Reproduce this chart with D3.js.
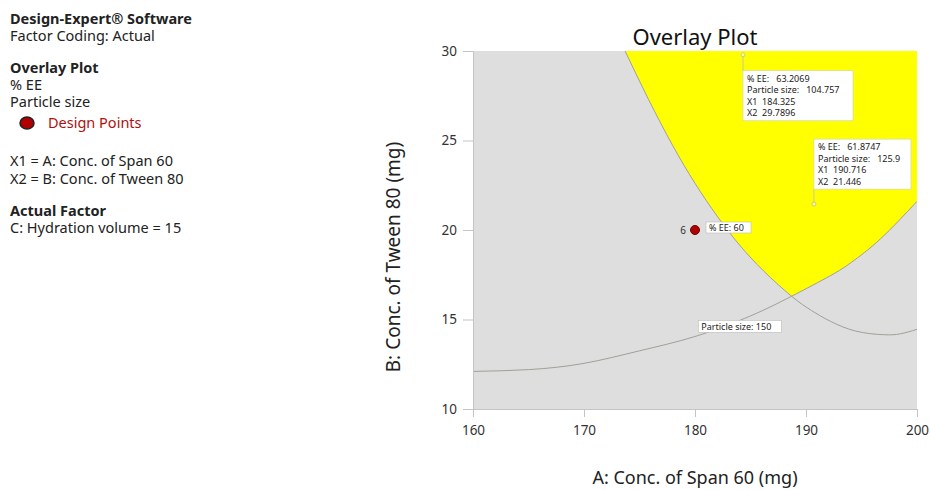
<!DOCTYPE html>
<html>
<head>
<meta charset="utf-8">
<script src="https://cdn.jsdelivr.net/npm/d3@7"></script>
<style>
  body { margin: 0; background: #fff; }
  text { font-family: "Noto Sans", "Open Sans", sans-serif; }
</style>
</head>
<body>
<div id="chart"></div>
<script>
// contour %EE = 60 (A, B)
const eeA = [173.7, 175.8, 178, 180, 182, 184, 186.2, 188.7, 190.5, 192.2, 194.5, 197, 198.5, 200];
const eeB = [30, 27.31, 24.71, 22.61, 20.77, 19.17, 17.7, 16.3, 15.5, 14.9, 14.35, 14.15, 14.2, 14.45];
// contour Particle size = 150 (A, B)
const psA = [160, 165, 170, 175, 180, 185, 188.7, 192.2, 194.1, 196.7, 200];
const psB = [12.1, 12.2, 12.55, 13.25, 14.05, 15.2, 16.3, 17.45, 18.2, 19.5, 21.6];
const crossA = 188.7;

const designA = [180], designB = [20], designRun = ["6"], designLabel = ["% EE: 60"];

const flagA = [184.325, 190.716];
const flagB = [29.7896, 21.446];
const flagEE = ["63.2069", "61.8747"];
const flagPS = ["104.757", "125.9"];

const xTicks = [160, 170, 180, 190, 200];
const yTicks = [10, 15, 20, 25, 30];

const legendLines = [
  {t: "Design-Expert® Software", b: true, y: 24},
  {t: "Factor Coding: Actual", y: 41},
  {t: "Overlay Plot", b: true, y: 73},
  {t: "% EE", y: 90},
  {t: "Particle size", y: 107},
  {t: "X1 = A: Conc. of Span 60", y: 166},
  {t: "X2 = B: Conc. of Tween 80", y: 184},
  {t: "Actual Factor", b: true, y: 216},
  {t: "C: Hydration volume = 15", y: 233}
];

const width = 930, height = 490,
    margin = ({top: 51, right: 13, bottom: 81, left: 473});

const svg = d3.select("#chart")
    .append("svg")
    .attr("width", width)
    .attr("height", height);

const x = d3.scaleLinear()
    .domain([160, 200])
    .range([margin.left, width - margin.right]);

const y = d3.scaleLinear()
    .domain([10, 30])
    .range([height - margin.bottom, margin.top]);

// left side text panel
svg.append("g").selectAll("text")
    .data(legendLines)
    .join("text")
    .attr("x", 10)
    .attr("y", d => d.y)
    .attr("font-size", 14.5)
    .attr("font-weight", d => d.b ? "bold" : "normal")
    .attr("fill", "#222")
    .text(d => d.t);

svg.append("ellipse")
    .attr("cx", 27).attr("cy", 123)
    .attr("rx", 7).attr("ry", 6)
    .attr("fill", "#b00000")
    .attr("stroke", "#222")
    .attr("stroke-width", 1.5);
svg.append("text")
    .attr("x", 48).attr("y", 128)
    .attr("font-size", 14.5)
    .attr("fill", "#b01010")
    .text("Design Points");

// plot background
svg.append("rect")
    .attr("x", x(160)).attr("y", y(30))
    .attr("width", x(200) - x(160))
    .attr("height", y(10) - y(30))
    .attr("fill", "#dedede");

svg.append("clipPath").attr("id", "clip")
  .append("rect")
    .attr("x", x(160)).attr("y", y(30))
    .attr("width", x(200) - x(160))
    .attr("height", y(10) - y(30));

const plot = svg.append("g").attr("clip-path", "url(#clip)");

const ee = eeA.map((a, i) => [a, eeB[i]]);
const ps = psA.map((a, i) => [a, psB[i]]);

const line = d3.line()
    .x(d => x(d[0]))
    .y(d => y(d[1]))
    .curve(d3.curveNatural);

// yellow feasible region: right of %EE curve and above particle size curve
const eePart = ee.filter(d => d[0] <= crossA);
const psPart = ps.filter(d => d[0] >= crossA);
const regionPath = line(eePart) + line(psPart).replace(/^M/, "L") +
    `L${x(200)},${y(30)}Z`;

plot.append("path")
    .attr("d", regionPath)
    .attr("fill", "#ffff00")
    .attr("stroke", "none");

plot.append("path")
    .attr("d", line(ee))
    .attr("fill", "none")
    .attr("stroke", "#a0a098")
    .attr("stroke-width", 1);

plot.append("path")
    .attr("d", line(ps))
    .attr("fill", "none")
    .attr("stroke", "#a0a098")
    .attr("stroke-width", 1);

// axes
const xAxis = g => g
    .attr("transform", `translate(0,${y(10)})`)
    .call(d3.axisBottom(x).tickValues(xTicks).tickSize(8).tickPadding(8))
    .call(g => g.select(".domain").attr("stroke", "#c4c4c4"))
    .call(g => g.selectAll(".tick line").attr("stroke", "#c4c4c4"))
    .call(g => g.selectAll(".tick text").attr("font-size", 13.5).attr("fill", "#333")
        .attr("font-family", "Noto Sans, sans-serif"));

const yAxis = g => g
    .attr("transform", `translate(${x(160)},0)`)
    .call(d3.axisLeft(y).tickValues(yTicks).tickSize(10).tickPadding(6))
    .call(g => g.select(".domain").attr("stroke", "#c4c4c4"))
    .call(g => g.selectAll(".tick line").attr("stroke", "#c4c4c4"))
    .call(g => g.selectAll(".tick text").attr("font-size", 13.5).attr("fill", "#333")
        .attr("font-family", "Noto Sans, sans-serif"));

svg.append("g").call(xAxis);
svg.append("g").call(yAxis);

svg.append("text")
    .attr("x", (x(160) + x(200)) / 2)
    .attr("y", 45)
    .attr("text-anchor", "middle")
    .attr("font-size", 22)
    .attr("fill", "#111")
    .text("Overlay Plot");

svg.append("text")
    .attr("x", (x(160) + x(200)) / 2)
    .attr("y", 484)
    .attr("text-anchor", "middle")
    .attr("font-size", 18)
    .attr("fill", "#222")
    .text("A: Conc. of Span 60 (mg)");

svg.append("text")
    .attr("transform", `translate(400,${(y(10) + y(30)) / 2 + 27}) rotate(-90)`)
    .attr("text-anchor", "middle")
    .attr("font-size", 19)
    .attr("fill", "#222")
    .text("B: Conc. of Tween 80 (mg)");

// contour label
const psLab = svg.append("g").attr("transform", `translate(${x(180.3)},${y(14.95)})`);
psLab.append("rect")
    .attr("width", 83).attr("height", 12)
    .attr("fill", "#fff").attr("stroke", "#bbb").attr("stroke-width", 0.6);
psLab.append("text")
    .attr("x", 3).attr("y", 9.5)
    .attr("font-size", 9).attr("fill", "#222")
    .text("Particle size: 150");

// design points
const dp = svg.append("g").selectAll("g")
    .data(designA.map((a, i) => ({a, b: designB[i], run: designRun[i], lab: designLabel[i]})))
    .join("g");

dp.append("circle")
    .attr("cx", d => x(d.a)).attr("cy", d => y(d.b))
    .attr("r", 4.5)
    .attr("fill", "#b00000")
    .attr("stroke", "#700000");
dp.append("text")
    .attr("x", d => x(d.a) - 9).attr("y", d => y(d.b) + 4)
    .attr("text-anchor", "end")
    .attr("font-size", 10).attr("fill", "#333")
    .text(d => d.run);
dp.append("rect")
    .attr("x", d => x(d.a) + 11).attr("y", d => y(d.b) - 8)
    .attr("width", 45).attr("height", 11)
    .attr("fill", "#fff").attr("stroke", "#bbb").attr("stroke-width", 0.6);
dp.append("text")
    .attr("x", d => x(d.a) + 14).attr("y", d => y(d.b) + 0.5)
    .attr("font-size", 9).attr("fill", "#222")
    .text(d => d.lab);

// flags
const flags = flagA.map((a, i) => ({a, b: flagB[i], ee: flagEE[i], ps: flagPS[i]}));
const boxW = [110, 97], boxH = 50;
const boxTop = [d => y(d.b) + 16, d => y(d.b) - 65];

flags.forEach((d, i) => {
    const px = x(d.a), py = y(d.b);
    const top = boxTop[i](d);
    const g = svg.append("g");
    g.append("line")
        .attr("x1", px).attr("x2", px)
        .attr("y1", py).attr("y2", i === 0 ? top : top + boxH)
        .attr("stroke", "#c8c8a0").attr("stroke-width", 1);
    g.append("circle")
        .attr("cx", px).attr("cy", py).attr("r", 2)
        .attr("fill", "#ffff80").attr("stroke", "#c8c8a0");
    g.append("rect")
        .attr("x", px).attr("y", top)
        .attr("width", boxW[i]).attr("height", boxH)
        .attr("fill", "#fff").attr("stroke", "#ccc").attr("stroke-width", 0.6);
    const lines = [
        `% EE:   ${d.ee}`,
        `Particle size:   ${d.ps}`,
        `X1  ${d.a}`,
        `X2  ${d.b}`
    ];
    g.selectAll("text")
        .data(lines)
        .join("text")
        .attr("x", px + 4)
        .attr("y", (t, j) => top + 11 + j * 11.5)
        .attr("font-size", 9)
        .attr("fill", "#222")
        .attr("xml:space", "preserve")
        .style("white-space", "pre")
        .text(t => t);
});
</script>
</body>
</html>
